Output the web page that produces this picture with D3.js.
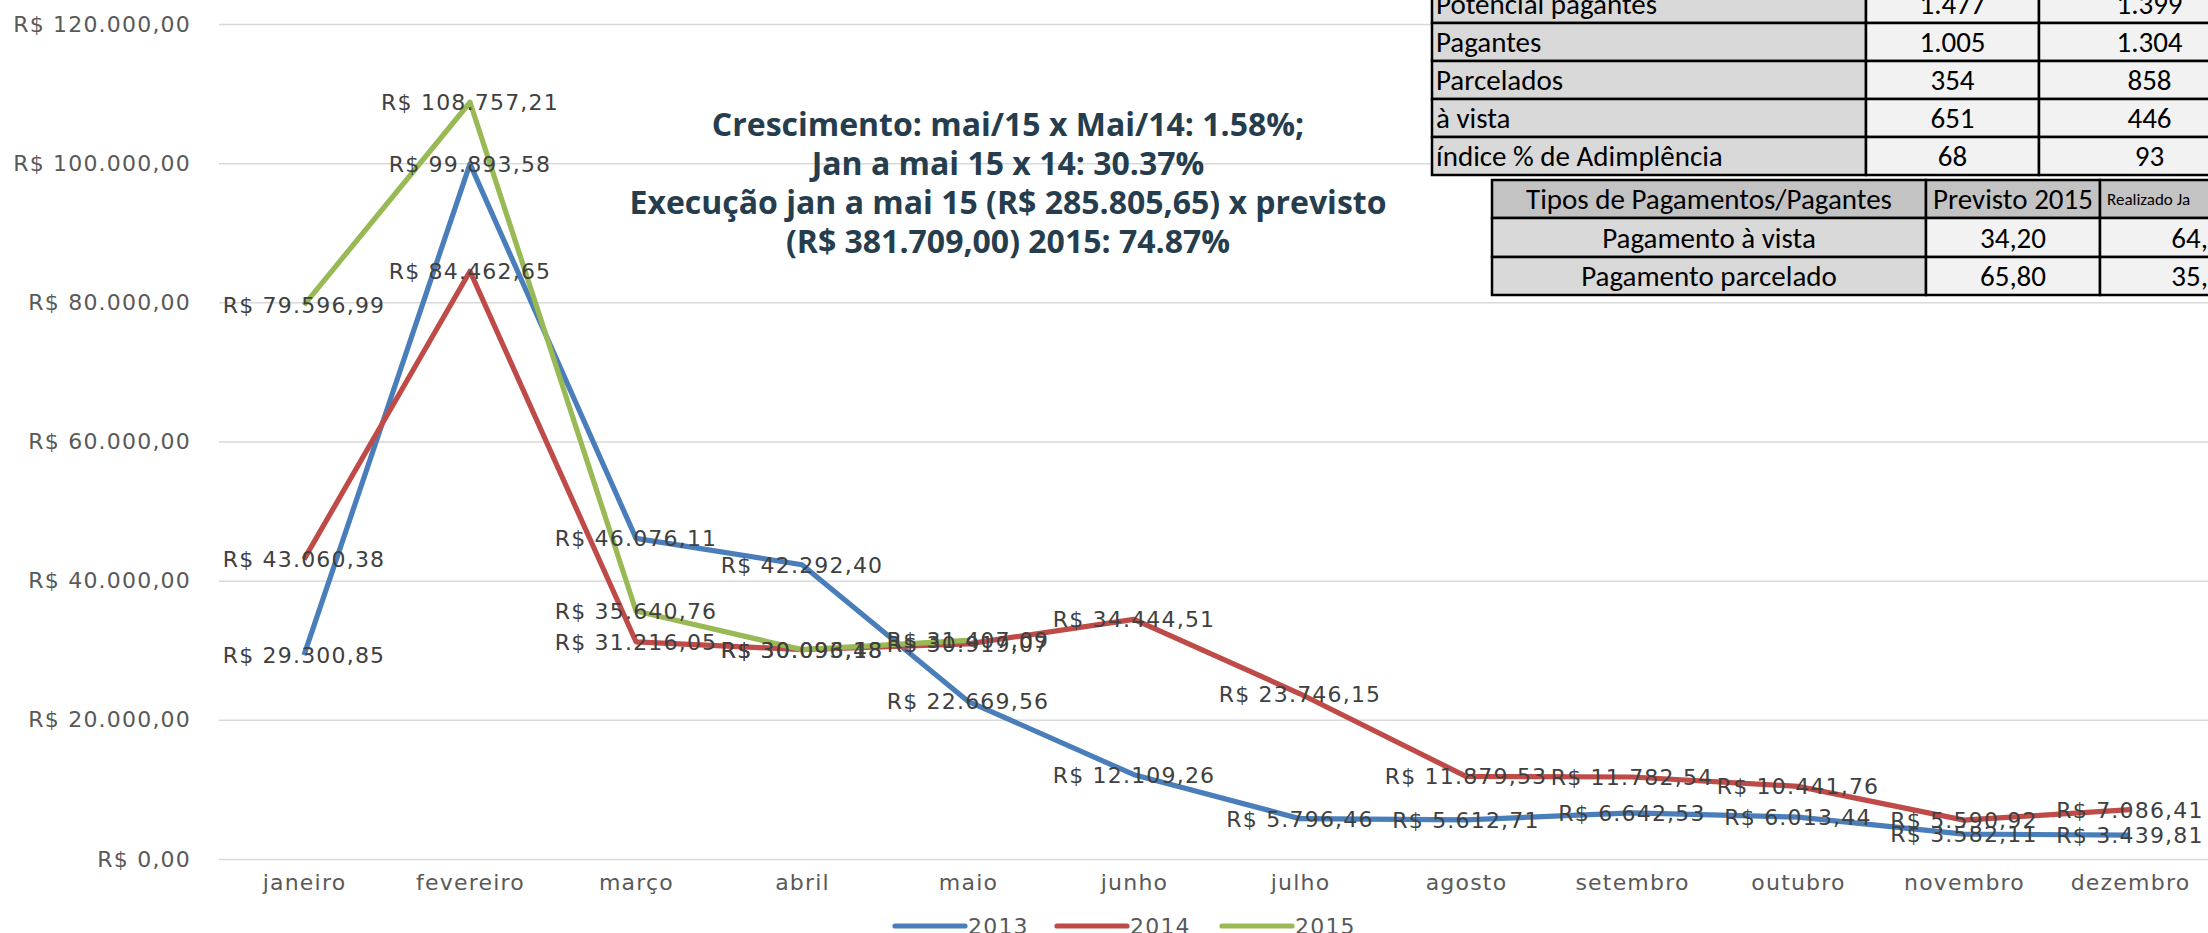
<!DOCTYPE html>
<html>
<head>
<meta charset="utf-8">
<script src="https://cdn.jsdelivr.net/npm/d3@7"></script>
<style>
  html, body { margin: 0; padding: 0; background: #fff; overflow: hidden; }
  svg { display: block; }
</style>
</head>
<body>
<svg id="chart" width="2208" height="933"></svg>
<script>
'use strict';
// chart data
const months = ["janeiro", "fevereiro", "março", "abril", "maio", "junho", "julho", "agosto", "setembro", "outubro", "novembro", "dezembro"];
const seriesNames = ["2013", "2014", "2015"];
const values2013 = [29300.85, 99893.58, 46076.11, 42292.40, 22669.56, 12109.26, 5796.46, 5612.71, 6642.53, 6013.44, 3582.11, 3439.81];
const values2014 = [43060.38, 84462.65, 31216.05, 30096.18, 30919.07, 34444.51, 23746.15, 11879.53, 11782.54, 10441.76, 5590.92, 7086.41];
const values2015 = [79596.99, 108757.21, 35640.76, 30093.48, 31407.09, null, null, null, null, null, null, null];
const yTicks = [0, 20000, 40000, 60000, 80000, 100000, 120000];
const titleLines = [
    "Crescimento: mai/15 x Mai/14: 1.58%;",
    "Jan a mai 15 x 14: 30.37%",
    "Execução jan a mai 15 (R$ 285.805,65) x previsto",
    "(R$ 381.709,00) 2015: 74.87%"
];

// tables on the top right
const table1Rows = [
    ["Potencial pagantes", "1.477", "1.399", ""],
    ["Pagantes", "1.005", "1.304", ""],
    ["Parcelados", "354", "858", ""],
    ["à vista", "651", "446", ""],
    ["índice % de Adimplência", "68", "93", ""]
];
const table2Header = ["Tipos de Pagamentos/Pagantes", "Previsto 2015", "Realizado Ja"];
const table2Rows = [
    ["Pagamento à vista", "34,20", "64,"],
    ["Pagamento parcelado", "65,80", "35,"]
];

const colors = ["#4a7ebb", "#be4b48", "#98b954"];

const locale = d3.formatLocale({ decimal: ",", thousands: ".", grouping: [3], currency: ["R$ ", ""] });
const fmt = locale.format("$,.2f");

const svg = d3.select("#chart");
const W = 2208;
const margin = { left: 219, top: 24, bottom: 859 };
const labelFont = "'DejaVu Sans', Verdana, sans-serif";

const x = d3.scaleBand().domain(months).range([221, 2213]);
const xc = m => x(m) + x.bandwidth() / 2;
const y = d3.scaleLinear().domain([0, 120000]).range([margin.bottom, margin.top]);

// y axis + gridlines
const yAxis = svg.append("g")
    .attr("transform", `translate(${margin.left},0)`)
    .call(d3.axisLeft(y).tickValues(yTicks).tickFormat(fmt).tickSize(-(W - margin.left)).tickPadding(28));
yAxis.select(".domain").remove();
yAxis.selectAll("line").attr("stroke", "#d9d9d9").attr("stroke-width", 1.5);
yAxis.selectAll("text")
    .attr("fill", "#595959")
    .style("font-family", labelFont)
    .style("font-size", "22px")
    .style("letter-spacing", "1.2px");

// x axis labels
const xAxis = svg.append("g")
    .attr("transform", `translate(0,${margin.bottom})`)
    .call(d3.axisBottom(d3.scalePoint().domain(months).range([xc(months[0]), xc(months[11])])).tickSize(0).tickPadding(15));
xAxis.select(".domain").remove();
xAxis.selectAll("text")
    .attr("fill", "#595959")
    .style("font-family", labelFont)
    .style("font-size", "22px")
    .style("letter-spacing", "1.2px");

// the title text block
const title = svg.append("g");
titleLines.forEach((t, i) => {
    title.append("text")
        .attr("x", 1008)
        .attr("y", 136 + i * 39)
        .attr("text-anchor", "middle")
        .attr("fill", "#263d4d")
        .style("font-family", "'Open Sans', sans-serif")
        .style("font-weight", "bold")
        .style("font-size", "32px")
        .text(t);
});

// lines
const allSeries = [values2013, values2014, values2015];
const line = d3.line()
    .defined(d => d != null)
    .x((d, i) => xc(months[i]))
    .y(d => y(d));
allSeries.forEach((vals, k) => {
    svg.append("path")
        .datum(vals)
        .attr("fill", "none")
        .attr("stroke", colors[k])
        .attr("stroke-width", 5.2)
        .attr("stroke-linejoin", "round")
        .attr("d", line);
});

// data labels, centred on the points
allSeries.forEach(vals => {
    svg.append("g").selectAll("text")
        .data(vals.map((v, i) => ({ v, m: months[i] })).filter(d => d.v != null))
        .enter().append("text")
            .attr("x", d => xc(d.m))
            .attr("y", d => y(d.v))
            .attr("dy", "0.36em")
            .attr("text-anchor", "middle")
            .attr("fill", "#404040")
            .style("font-family", labelFont)
            .style("font-size", "22px")
            .style("letter-spacing", "1.2px")
            .text(d => fmt(d.v));
});

// legend
const legendX = [895, 1057, 1222];
seriesNames.forEach((name, k) => {
    svg.append("line")
        .attr("x1", legendX[k]).attr("x2", legendX[k] + 70)
        .attr("y1", 926).attr("y2", 926)
        .attr("stroke", colors[k])
        .attr("stroke-width", 5.2)
        .attr("stroke-linecap", "round");
    svg.append("text")
        .attr("x", legendX[k] + 73)
        .attr("y", 934)
        .attr("fill", "#595959")
        .style("font-family", labelFont)
        .style("font-size", "22px")
        .style("letter-spacing", "1.2px")
        .text(name);
});

// tables
const tableFont = "Carlito, 'Liberation Sans Narrow', 'Open Sans', sans-serif";
function drawTable(rows, colEdges, rowEdges, fills, aligns) {
    const g = svg.append("g");
    rows.forEach((row, r) => {
        row.forEach((cell, c) => {
            const x0 = colEdges[c], x1 = colEdges[c + 1];
            const y0 = rowEdges[r], y1 = rowEdges[r + 1];
            g.append("rect")
                .attr("x", x0).attr("y", y0)
                .attr("width", x1 - x0).attr("height", y1 - y0)
                .attr("fill", fills(r, c))
                .attr("stroke", "#000")
                .attr("stroke-width", 2.5);
            const a = aligns(r, c);
            g.append("text")
                .attr("x", a === "start" ? x0 + 4 : (x0 + x1) / 2)
                .attr("y", (y0 + y1) / 2)
                .attr("dy", "0.35em")
                .attr("text-anchor", a)
                .attr("fill", "#000")
                .style("font-family", tableFont)
                .style("font-size", "29px")
                .text(cell);
        });
    });
    return g;
}

drawTable(table1Rows, [1432, 1866, 2039, 2260], [-15, 23, 61, 99, 137, 175],
    (r, c) => c === 0 ? "#d9d9d9" : "#f2f2f2",
    (r, c) => c === 0 ? "start" : "middle");

const t2 = drawTable([table2Header].concat(table2Rows), [1492, 1926, 2100, 2260], [180, 218, 257, 295],
    (r, c) => r === 0 ? "#c3c3c3" : (c === 0 ? "#d9d9d9" : "#f2f2f2"),
    (r, c) => "middle");
// the clipped third column of the second table
t2.selectAll("text").filter((d, i) => i % 3 === 2)
    .attr("x", 2208)
    .attr("text-anchor", "end");
t2.selectAll("text").filter((d, i) => i === 2)
    .attr("x", 2107)
    .attr("text-anchor", "start")
    .style("font-size", "17px");
</script>
</body>
</html>
